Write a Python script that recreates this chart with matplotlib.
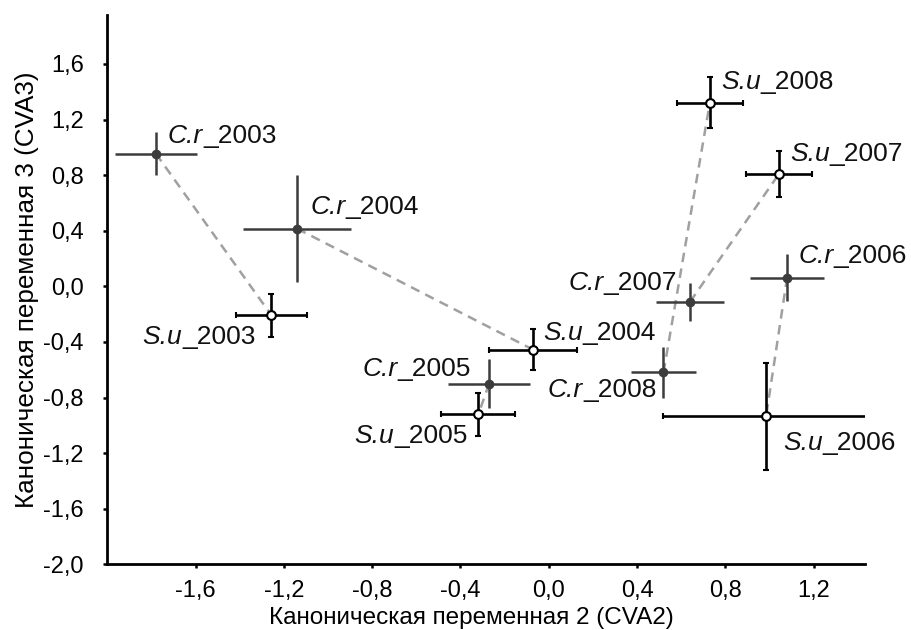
import matplotlib
matplotlib.use("Agg")
import matplotlib.pyplot as plt
from matplotlib.ticker import FuncFormatter, FixedLocator

plt.rcParams['font.family'] = ['Liberation Sans', 'DejaVu Sans']

# ---- data ----
years = [2003, 2004, 2005, 2006, 2007, 2008]
cr_x = [-1.78, -1.14, -0.27, 1.08, 0.64, 0.52]
cr_y = [0.955, 0.415, -0.70, 0.063, -0.112, -0.62]
cr_xerr = [0.187, 0.244, 0.187, 0.166, 0.155, 0.149]
cr_yerr = [0.152, 0.384, 0.177, 0.17, 0.138, 0.18]

su_x = [-1.257, -0.072, -0.319, 0.985, 1.044, 0.73]
su_y = [-0.207, -0.455, -0.922, -0.934, 0.81, 1.32]
su_xerr = [0.16, 0.2, 0.168, 0.467, 0.151, 0.151]
su_yerr = [0.155, 0.146, 0.152, 0.385, 0.165, 0.183]

cr_name = "C.r"
su_name = "S.u"
xticks = [-1.6, -1.2, -0.8, -0.4, 0.0, 0.4, 0.8, 1.2]
yticks = [-2.0, -1.6, -1.2, -0.8, -0.4, 0.0, 0.4, 0.8, 1.2, 1.6]
xlabel = "Каноническая переменная 2 (CVA2)"
ylabel = "Каноническая переменная 3 (CVA3)"

# label offsets in pixels (dx, dy-down), alignment
cr_off = {2003: (12, -11, 'left'), 2004: (13, -15, 'left'), 2005: (-18, -8, 'right'),
          2006: (11, -15, 'left'), 2007: (-13, -12, 'right'), 2008: (-7, 25, 'right')}
su_off = {2003: (-16, 29, 'right'), 2004: (10, -10, 'left'), 2005: (-11, 29, 'right'),
          2006: (17, 34, 'left'), 2007: (11, -13, 'left'), 2008: (11, -14, 'left')}

fig = plt.figure(figsize=(9.12, 6.3), dpi=100)
ax = fig.add_axes([107.3 / 912, 1 - 564.3 / 630, (865 - 107.3) / 912, (564.3 - 15) / 630])

# connecting dashed lines
for i in range(len(years)):
    ax.plot([cr_x[i], su_x[i]], [cr_y[i], su_y[i]], ls=(0, (3.8, 2.6)), color='#a0a0a0',
            lw=1.8, zorder=1)

ax.errorbar(cr_x, cr_y, xerr=cr_xerr, yerr=cr_yerr, fmt='o', color='#3c3c3c',
            ecolor='#3c3c3c', elinewidth=1.8, capsize=2.3, capthick=1.6,
            markersize=7, markeredgewidth=0, zorder=3)
ax.errorbar(su_x, su_y, xerr=su_xerr, yerr=su_yerr, fmt='o', color='black',
            ecolor='black', elinewidth=1.9, capsize=2.3, capthick=1.6,
            markersize=6.3, markerfacecolor='white', markeredgecolor='black',
            markeredgewidth=1.5, zorder=4)

px = 0.72
LFS = 19


def put_label(x, y, name, yr, off):
    dx, dy, ha = off
    kw = dict(fontsize=LFS, color='#111111', zorder=5, annotation_clip=False)
    if ha == 'left':
        t1 = ax.annotate(name, (x, y), xytext=(dx * px, -dy * px), textcoords='offset points',
                         ha='left', va='baseline', style='italic', **kw)
        ax.annotate("_" + str(yr), xy=(1, 0), xycoords=t1, ha='left', va='bottom', **kw)
    else:
        t2 = ax.annotate("_" + str(yr), (x, y), xytext=(dx * px, -dy * px),
                         textcoords='offset points', ha='right', va='baseline', **kw)
        ax.annotate(name, xy=(0, 0), xycoords=t2, ha='right', va='bottom',
                    style='italic', **kw)


for i, yr in enumerate(years):
    put_label(cr_x[i], cr_y[i], cr_name, yr, cr_off[yr])
    put_label(su_x[i], su_y[i], su_name, yr, su_off[yr])

ax.set_xlim(-2.0, 1.433)
ax.set_ylim(-2.0, 1.952)
ax.xaxis.set_major_locator(FixedLocator(xticks))
ax.yaxis.set_major_locator(FixedLocator(yticks))
fmt = FuncFormatter(lambda v, _: f"{v:.1f}".replace('.', ','))
ax.xaxis.set_major_formatter(fmt)
ax.yaxis.set_major_formatter(fmt)

for s in ['top', 'right']:
    ax.spines[s].set_visible(False)
for s in ['left', 'bottom']:
    ax.spines[s].set_linewidth(2.0)
ax.tick_params(axis='both', width=1.8, length=3, direction='out')
ax.tick_params(axis='y', pad=14, labelsize=17)
ax.tick_params(axis='x', pad=8, labelsize=17)

ax.set_xlabel(xlabel, fontsize=17.5)
ax.xaxis.label.set_va('center')
ax.xaxis.set_label_coords(0.481, -0.097)
ax.set_ylabel(ylabel, fontsize=18.8, labelpad=3)

fig.savefig("out.png", dpi=100, facecolor='white')
